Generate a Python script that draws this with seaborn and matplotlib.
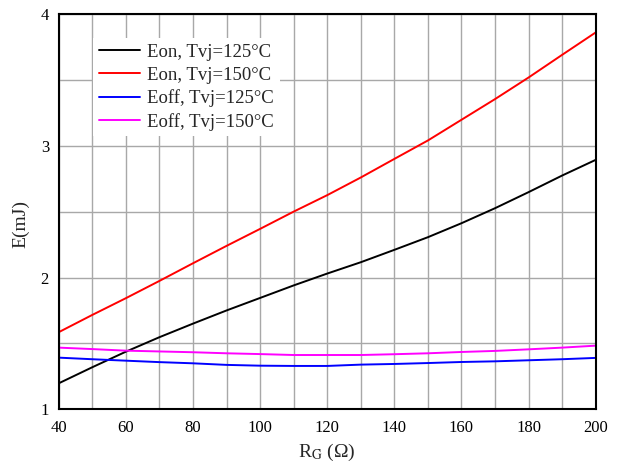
import numpy as np
import pandas as pd
import seaborn as sns
import matplotlib
matplotlib.use("Agg")
import matplotlib.pyplot as plt

# Gate resistance (ohm)
rg = [40, 50, 60, 70, 80, 90, 100, 110, 120, 130, 140, 150, 160, 170, 180, 190, 200]

# Switching energies (mJ)
eon_125 = [1.197, 1.319, 1.437, 1.547, 1.650, 1.750, 1.845, 1.940, 2.030, 2.116, 2.210,
           2.306, 2.412, 2.526, 2.648, 2.774, 2.893]
eon_150 = [1.585, 1.716, 1.843, 1.974, 2.108, 2.240, 2.369, 2.500, 2.625, 2.759, 2.900,
           3.040, 3.197, 3.354, 3.518, 3.690, 3.860]
eoff_125 = [1.392, 1.380, 1.369, 1.358, 1.349, 1.337, 1.331, 1.329, 1.329, 1.339, 1.344,
            1.351, 1.359, 1.364, 1.372, 1.380, 1.390]
eoff_150 = [1.468, 1.457, 1.445, 1.439, 1.433, 1.425, 1.419, 1.412, 1.412, 1.412, 1.418,
            1.425, 1.435, 1.443, 1.455, 1.468, 1.483]

labels = ["Eon, Tvj=125°C", "Eon, Tvj=150°C", "Eoff, Tvj=125°C", "Eoff, Tvj=150°C"]
colors = ["#000000", "#ff0000", "#0000ff", "#ff00ff"]

df = pd.concat([
    pd.DataFrame({"RG": rg, "E": vals, "curve": lab})
    for vals, lab in zip([eon_125, eon_150, eoff_125, eoff_150], labels)
], ignore_index=True)

sns.set_theme(style="white")
plt.rcParams["font.family"] = ["Liberation Serif", "DejaVu Serif"]
plt.rcParams["mathtext.fontset"] = "stix"

fig = plt.figure(figsize=(6.17, 4.69), dpi=100)
ax = fig.add_axes([0.0951, 0.1273, 0.8704, 0.8429])

sns.lineplot(data=df, x="RG", y="E", hue="curve", hue_order=labels,
             palette=colors, linewidth=1.4, ax=ax, legend=True)

ax.set_xlim(40, 200)
ax.set_ylim(1, 4)
ax.set_xticks(np.arange(40, 201, 20))
ax.set_yticks([1, 2, 3, 4])
ax.set_xticks(np.arange(40, 201, 10), minor=True)
ax.set_yticks(np.arange(1, 4.01, 0.5), minor=True)
ax.grid(which="both", color="#a8a8a8", linewidth=1.0)
ax.set_axisbelow(True)
ax.tick_params(which="both", length=0, labelsize=12, colors="black")
ax.tick_params(axis="x", pad=8)
ax.tick_params(axis="y", pad=7)
for s in ax.spines.values():
    s.set_color("black")
    s.set_linewidth(1.5)

ax.set_xlabel(r"R$_{\mathrm{G}}$ (Ω)", fontsize=14, labelpad=4)
ax.set_ylabel("E(mJ)", fontsize=14)
ax.yaxis.set_label_coords(-0.055, 0.469)

leg = ax.legend(loc="upper left", bbox_to_anchor=(0.0646, 0.939), borderaxespad=0,
                frameon=True, facecolor="white", edgecolor="white", framealpha=1,
                fancybox=False, fontsize=13.5, handlelength=2.2, handletextpad=0.37,
                labelspacing=0.3, borderpad=0.3)
leg.get_frame().set_linewidth(0)

fig.savefig("out.png", dpi=100)
